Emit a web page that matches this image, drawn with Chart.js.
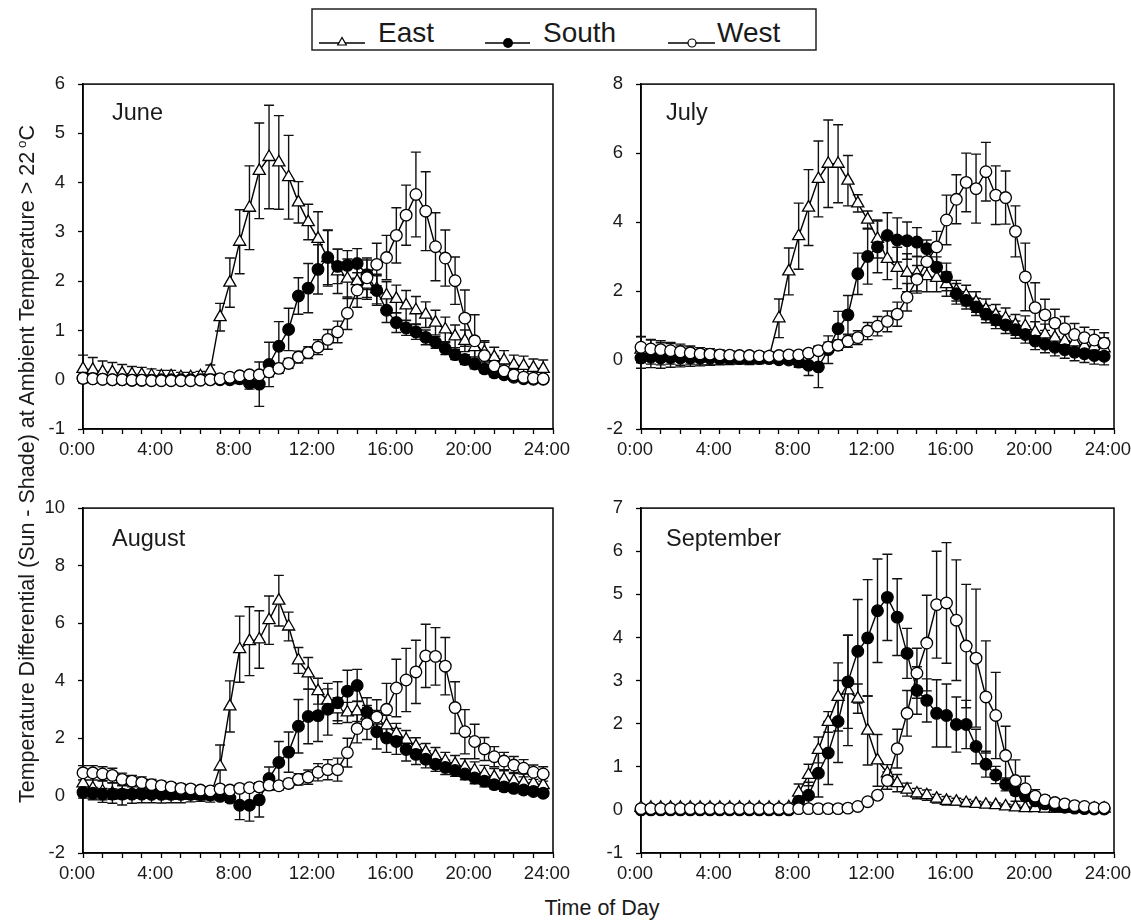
<!DOCTYPE html>
<html>
<head>
<meta charset="utf-8">
<title>Sun - Shade temperature differential</title>
<script src="https://cdn.jsdelivr.net/npm/chart.js@4.4.1/dist/chart.umd.min.js"></script>
<style>
  html, body { margin: 0; padding: 0; background: #fff; overflow: hidden; }
  body { width: 1131px; height: 920px; position: relative; font-family: "Liberation Sans", Arial, sans-serif; color: #1a1a1a; }
  canvas { position: absolute; }
  .month { position: absolute; font-size: 23.5px; line-height: 24px; white-space: nowrap; }
  .legtext { position: absolute; top: 19px; font-size: 28px; line-height: 28px; white-space: nowrap; }
  #xtitle { position: absolute; left: 302px; top: 897px; width: 600px; text-align: center; font-size: 21.5px; line-height: 22px; }
  #ytitle { position: absolute; left: -358px; top: 453px; width: 760px; height: 22px; text-align: center; font-size: 21.5px; line-height: 22px; transform: rotate(-90deg); white-space: nowrap; }
  #ytitle sup { font-size: 0.62em; vertical-align: 0.6em; margin-left: 4px; }
  #legsvg { position: absolute; left: 0; top: 0; }
</style>
</head>
<body>

<svg id="legsvg" width="1131" height="60">
  <rect x="312" y="9" width="504" height="41" fill="none" stroke="#222" stroke-width="1.5"/>
  <line x1="319" y1="43" x2="365" y2="43" stroke="#000" stroke-width="1.3"/>
  <polygon points="342,37.5 337.7,45 346.3,45" fill="#fff" stroke="#000" stroke-width="1.2"/>
  <line x1="485" y1="43" x2="530" y2="43" stroke="#000" stroke-width="1.3"/>
  <circle cx="508" cy="43" r="5" fill="#000"/>
  <line x1="668" y1="43" x2="715" y2="43" stroke="#000" stroke-width="1.3"/>
  <circle cx="692" cy="43" r="4" fill="#fff" stroke="#000" stroke-width="1.2"/>
</svg>
<span class="legtext" style="left:378px">East</span>
<span class="legtext" style="left:543px">South</span>
<span class="legtext" style="left:717px">West</span>

<canvas id="june" width="560" height="409" style="left:23px; top:60px"></canvas>
<canvas id="july" width="563" height="409" style="left:581px; top:60px"></canvas>
<canvas id="august" width="560" height="409" style="left:23px; top:484px"></canvas>
<canvas id="september" width="563" height="409" style="left:581px; top:484px"></canvas>

<div class="month" style="left:112px; top:100px">June</div>
<div class="month" style="left:666px; top:100px">July</div>
<div class="month" style="left:112px; top:526px">August</div>
<div class="month" style="left:666px; top:526px">September</div>

<div id="ytitle">Temperature Differential (Sun - Shade) at Ambient Temperature &gt; 22<sup>o</sup>C</div>
<div id="xtitle">Time of Day</div>

<script>
// half-hour readings, 0:00 .. 23:30
const hours = [0, 0.5, 1, 1.5, 2, 2.5, 3, 3.5, 4, 4.5, 5, 5.5, 6, 6.5, 7, 7.5,
  8, 8.5, 9, 9.5, 10, 10.5, 11, 11.5, 12, 12.5, 13, 13.5, 14, 14.5, 15, 15.5,
  16, 16.5, 17, 17.5, 18, 18.5, 19, 19.5, 20, 20.5, 21, 21.5, 22, 22.5, 23, 23.5];
const xTicks = [0, 1, 2, 3, 4, 5, 6, 7, 8, 9, 10, 11, 12, 13, 14, 15, 16, 17, 18, 19, 20, 21, 22, 23, 24];

// June
const juneEast = [0.22, 0.20, 0.16, 0.15, 0.13, 0.11, 0.10, 0.08,
  0.07, 0.07, 0.05, 0.05, 0.07, 0.18, 1.27, 1.97,
  2.80, 3.49, 4.24, 4.52, 4.41, 4.11, 3.60, 3.20,
  2.86, 2.47, 2.20, 2.05, 2.00, 1.93, 1.84, 1.71,
  1.64, 1.51, 1.41, 1.32, 1.16, 1.02, 0.88, 0.79,
  0.66, 0.56, 0.46, 0.39, 0.30, 0.28, 0.24, 0.22];
const juneEastErr = [0.28, 0.25, 0.22, 0.20, 0.18, 0.16, 0.15, 0.14,
  0.12, 0.12, 0.10, 0.10, 0.10, 0.12, 0.28, 0.50,
  0.65, 0.85, 0.97, 1.05, 0.95, 0.85, 0.42, 0.36,
  0.55, 0.57, 0.45, 0.40, 0.35, 0.30, 0.30, 0.28,
  0.28, 0.30, 0.28, 0.26, 0.25, 0.25, 0.23, 0.22,
  0.20, 0.20, 0.20, 0.20, 0.20, 0.20, 0.18, 0.18];
const juneSouth = [0.03, 0.02, 0.01, 0.00, 0.00, -0.01, -0.01, -0.01,
  0.00, 0.00, 0.00, 0.00, 0.00, 0.00, 0.00, 0.00,
  0.02, -0.07, -0.09, 0.31, 0.68, 1.02, 1.70, 1.86,
  2.24, 2.48, 2.30, 2.32, 2.36, 2.13, 1.81, 1.41,
  1.16, 1.05, 0.97, 0.86, 0.76, 0.63, 0.51, 0.41,
  0.32, 0.22, 0.14, 0.10, 0.05, 0.02, 0.01, 0.01];
const juneSouthErr = [0.05, 0.05, 0.05, 0.05, 0.04, 0.04, 0.04, 0.04,
  0.04, 0.04, 0.04, 0.04, 0.04, 0.04, 0.05, 0.05,
  0.10, 0.12, 0.45, 0.45, 0.50, 0.43, 0.37, 0.50,
  0.50, 0.55, 0.35, 0.30, 0.30, 0.30, 0.30, 0.25,
  0.20, 0.15, 0.15, 0.15, 0.12, 0.12, 0.10, 0.10,
  0.10, 0.08, 0.08, 0.06, 0.05, 0.05, 0.05, 0.05];
const juneWest = [0.03, 0.02, 0.01, 0.00, 0.00, -0.01, -0.01, -0.02,
  -0.02, -0.02, -0.02, -0.02, -0.01, 0.00, 0.02, 0.05,
  0.08, 0.10, 0.10, 0.16, 0.23, 0.33, 0.46, 0.55,
  0.66, 0.82, 0.97, 1.35, 1.82, 2.07, 2.34, 2.48,
  2.93, 3.34, 3.76, 3.42, 2.70, 2.47, 2.01, 1.25,
  0.79, 0.49, 0.28, 0.18, 0.10, 0.05, 0.03, 0.02];
const juneWestErr = [0.05, 0.05, 0.05, 0.05, 0.05, 0.05, 0.05, 0.05,
  0.05, 0.05, 0.05, 0.05, 0.05, 0.05, 0.05, 0.05,
  0.05, 0.05, 0.05, 0.10, 0.10, 0.10, 0.12, 0.12,
  0.15, 0.20, 0.22, 0.33, 0.35, 0.40, 0.43, 0.45,
  0.56, 0.61, 0.86, 0.80, 0.69, 0.57, 0.48, 0.57,
  0.53, 0.30, 0.20, 0.15, 0.10, 0.08, 0.06, 0.05];

// July
const julyEast = [0.30, 0.23, 0.18, 0.18, 0.13, 0.13, 0.08, 0.06,
  0.06, 0.04, 0.04, 0.02, 0.04, 0.08, 1.21, 2.57,
  3.59, 4.42, 5.25, 5.69, 5.69, 5.20, 4.54, 4.07,
  3.51, 2.93, 2.67, 2.53, 2.50, 2.43, 2.38, 2.20,
  2.01, 1.87, 1.68, 1.47, 1.31, 1.21, 1.02, 0.98,
  0.81, 0.74, 0.65, 0.55, 0.51, 0.41, 0.39, 0.34];
const julyEastErr = [0.38, 0.35, 0.32, 0.30, 0.28, 0.25, 0.22, 0.20,
  0.18, 0.17, 0.15, 0.15, 0.15, 0.15, 0.56, 0.68,
  0.96, 1.10, 1.10, 1.27, 1.13, 0.73, 0.25, 0.25,
  0.55, 0.60, 0.60, 0.55, 0.50, 0.45, 0.40, 0.35,
  0.30, 0.30, 0.30, 0.30, 0.30, 0.30, 0.30, 0.30,
  0.30, 0.30, 0.30, 0.30, 0.30, 0.30, 0.30, 0.30];
const julySouth = [0.06, 0.08, 0.06, 0.07, 0.06, 0.06, 0.05, 0.05,
  0.04, 0.04, 0.04, 0.04, 0.04, 0.04, 0.01, 0.00,
  -0.06, -0.15, -0.20, 0.30, 0.91, 1.31, 2.50, 3.00,
  3.28, 3.61, 3.48, 3.46, 3.42, 3.23, 2.69, 2.41,
  1.92, 1.73, 1.54, 1.33, 1.16, 1.02, 0.88, 0.74,
  0.55, 0.46, 0.37, 0.30, 0.23, 0.18, 0.13, 0.11];
const julySouthErr = [0.30, 0.30, 0.30, 0.28, 0.26, 0.24, 0.22, 0.20,
  0.18, 0.16, 0.15, 0.14, 0.13, 0.12, 0.10, 0.10,
  0.15, 0.30, 0.60, 0.40, 0.50, 0.56, 0.60, 0.80,
  0.75, 0.66, 0.64, 0.54, 0.42, 0.25, 0.30, 0.40,
  0.30, 0.25, 0.25, 0.25, 0.25, 0.25, 0.25, 0.25,
  0.25, 0.25, 0.25, 0.25, 0.25, 0.25, 0.25, 0.25];
const julyWest = [0.37, 0.32, 0.30, 0.27, 0.24, 0.21, 0.18, 0.17,
  0.15, 0.14, 0.13, 0.13, 0.12, 0.11, 0.13, 0.15,
  0.15, 0.20, 0.27, 0.37, 0.43, 0.55, 0.65, 0.84,
  0.98, 1.12, 1.33, 1.82, 2.34, 2.85, 3.28, 4.06,
  4.66, 5.15, 4.97, 5.46, 4.78, 4.71, 3.73, 2.41,
  1.52, 1.31, 1.07, 0.91, 0.74, 0.65, 0.58, 0.49];
const julyWestErr = [0.30, 0.28, 0.26, 0.24, 0.22, 0.20, 0.18, 0.16,
  0.14, 0.12, 0.10, 0.10, 0.10, 0.10, 0.10, 0.10,
  0.10, 0.10, 0.12, 0.15, 0.15, 0.18, 0.20, 0.25,
  0.28, 0.30, 0.35, 0.40, 0.40, 0.45, 0.45, 0.72,
  0.71, 0.85, 1.00, 0.85, 0.85, 0.77, 0.74, 0.98,
  0.72, 0.45, 0.40, 0.35, 0.32, 0.30, 0.30, 0.30];

// August
const augEast = [0.42, 0.25, 0.14, 0.08, 0.02, 0.05, 0.05, 0.05,
  0.02, 0.00, 0.00, 0.00, 0.00, -0.03, 1.01, 3.10,
  5.09, 5.37, 5.43, 6.10, 6.78, 5.88, 4.70, 4.25,
  3.63, 3.31, 3.00, 2.89, 2.93, 2.78, 2.61, 2.44,
  2.16, 1.94, 1.71, 1.51, 1.37, 1.20, 1.09, 0.98,
  0.87, 0.75, 0.64, 0.56, 0.50, 0.45, 0.42, 0.36];
const augEastErr = [0.40, 0.40, 0.38, 0.35, 0.35, 0.32, 0.30, 0.30,
  0.28, 0.25, 0.25, 0.22, 0.20, 0.20, 0.75, 0.89,
  1.15, 1.20, 1.00, 0.84, 0.88, 0.50, 0.45, 0.55,
  0.45, 0.40, 0.40, 0.35, 0.35, 0.35, 0.35, 0.35,
  0.35, 0.32, 0.30, 0.30, 0.30, 0.30, 0.30, 0.30,
  0.30, 0.30, 0.30, 0.30, 0.30, 0.30, 0.30, 0.30];
const augSouth = [0.11, 0.08, 0.05, 0.05, 0.05, 0.05, 0.05, 0.04,
  0.04, 0.04, 0.04, 0.04, 0.03, 0.02, -0.03, -0.09,
  -0.34, -0.34, -0.15, 0.59, 1.15, 1.51, 2.41, 2.75,
  2.78, 3.00, 3.23, 3.63, 3.83, 2.90, 2.22, 2.00,
  1.88, 1.60, 1.43, 1.26, 1.09, 0.98, 0.87, 0.75,
  0.61, 0.50, 0.38, 0.30, 0.25, 0.19, 0.14, 0.08];
const augSouthErr = [0.20, 0.20, 0.20, 0.18, 0.16, 0.15, 0.14, 0.13,
  0.12, 0.12, 0.10, 0.10, 0.10, 0.10, 0.10, 0.15,
  0.50, 0.55, 0.60, 0.40, 0.73, 0.70, 0.93, 0.95,
  0.90, 0.90, 0.73, 0.73, 0.56, 0.50, 0.60, 0.50,
  0.45, 0.40, 0.35, 0.30, 0.25, 0.25, 0.20, 0.20,
  0.20, 0.20, 0.15, 0.15, 0.15, 0.15, 0.12, 0.12];
const augWest = [0.79, 0.79, 0.75, 0.70, 0.56, 0.50, 0.45, 0.38,
  0.34, 0.30, 0.25, 0.23, 0.19, 0.16, 0.23, 0.19,
  0.25, 0.27, 0.30, 0.36, 0.34, 0.42, 0.56, 0.64,
  0.81, 0.90, 0.90, 1.49, 2.33, 2.50, 2.73, 3.00,
  3.74, 4.02, 4.30, 4.86, 4.84, 4.50, 3.06, 2.22,
  1.88, 1.62, 1.35, 1.20, 1.06, 0.95, 0.81, 0.75];
const augWestErr = [0.25, 0.25, 0.25, 0.25, 0.22, 0.20, 0.20, 0.18,
  0.16, 0.15, 0.14, 0.13, 0.12, 0.12, 0.12, 0.12,
  0.12, 0.12, 0.15, 0.15, 0.15, 0.15, 0.20, 0.25,
  0.30, 0.35, 0.40, 0.50, 0.50, 0.55, 0.60, 0.90,
  1.00, 1.10, 1.10, 1.10, 1.00, 1.00, 0.90, 0.77,
  0.60, 0.40, 0.35, 0.30, 0.30, 0.30, 0.25, 0.25];

// September
const sepEast = [0.05, 0.05, 0.05, 0.05, 0.05, 0.05, 0.05, 0.05,
  0.05, 0.05, 0.05, 0.05, 0.05, 0.05, 0.05, 0.06,
  0.40, 0.81, 1.39, 2.04, 2.62, 2.77, 2.58, 1.84,
  1.15, 0.85, 0.62, 0.47, 0.38, 0.34, 0.26, 0.21,
  0.19, 0.16, 0.14, 0.12, 0.11, 0.08, 0.06, 0.04,
  0.04, 0.03, 0.03, 0.03, 0.03, 0.03, 0.03, 0.03];
const sepEastErr = [0.03, 0.03, 0.03, 0.03, 0.03, 0.03, 0.03, 0.03,
  0.03, 0.03, 0.03, 0.03, 0.03, 0.03, 0.03, 0.05,
  0.20, 0.25, 0.30, 0.24, 0.79, 1.28, 0.34, 0.80,
  0.60, 0.20, 0.20, 0.15, 0.12, 0.12, 0.10, 0.10,
  0.08, 0.08, 0.06, 0.06, 0.05, 0.05, 0.05, 0.03,
  0.03, 0.03, 0.03, 0.03, 0.03, 0.03, 0.03, 0.03];
const sepSouth = [0.00, 0.00, 0.00, 0.00, 0.00, 0.00, 0.00, 0.00,
  0.00, 0.00, 0.00, 0.00, 0.00, 0.00, 0.00, 0.00,
  0.20, 0.34, 0.85, 1.32, 2.05, 2.97, 3.68, 3.99,
  4.62, 4.93, 4.47, 3.63, 2.77, 2.54, 2.24, 2.19,
  1.98, 1.98, 1.47, 1.06, 0.81, 0.59, 0.44, 0.32,
  0.21, 0.14, 0.08, 0.06, 0.04, 0.03, 0.02, 0.02];
const sepSouthErr = [0.02, 0.02, 0.02, 0.02, 0.02, 0.02, 0.02, 0.02,
  0.02, 0.02, 0.02, 0.02, 0.02, 0.02, 0.02, 0.02,
  0.15, 0.30, 0.55, 0.73, 0.95, 1.08, 1.20, 1.35,
  1.20, 1.00, 0.89, 0.58, 0.55, 0.50, 0.78, 0.73,
  0.64, 0.56, 0.40, 0.30, 0.20, 0.15, 0.10, 0.08,
  0.05, 0.04, 0.03, 0.02, 0.02, 0.02, 0.02, 0.02];
const sepWest = [0.03, 0.03, 0.03, 0.03, 0.03, 0.03, 0.03, 0.03,
  0.03, 0.03, 0.03, 0.03, 0.03, 0.03, 0.03, 0.03,
  0.03, 0.03, 0.03, 0.03, 0.03, 0.04, 0.08, 0.19,
  0.34, 0.68, 1.42, 2.24, 3.17, 3.87, 4.76, 4.80,
  4.40, 3.80, 3.52, 2.62, 2.19, 1.26, 0.68, 0.49,
  0.32, 0.23, 0.17, 0.14, 0.10, 0.08, 0.05, 0.05];
const sepWestErr = [0.02, 0.02, 0.02, 0.02, 0.02, 0.02, 0.02, 0.02,
  0.02, 0.02, 0.02, 0.02, 0.02, 0.02, 0.02, 0.02,
  0.02, 0.02, 0.02, 0.02, 0.02, 0.02, 0.03, 0.05,
  0.08, 0.20, 0.45, 0.53, 0.58, 1.11, 1.24, 1.40,
  1.40, 1.43, 1.60, 1.30, 1.00, 0.68, 0.48, 0.29,
  0.15, 0.10, 0.08, 0.06, 0.05, 0.04, 0.03, 0.03];

const FONT = '"Liberation Sans", Arial, Helvetica, sans-serif';
Chart.defaults.font.family = FONT;
Chart.defaults.color = '#1a1a1a';

// box round the plot area
const frame = {
  id: 'frame',
  beforeDatasetsDraw(chart) {
    const a = chart.chartArea, ctx = chart.ctx;
    ctx.save();
    ctx.strokeStyle = '#000';
    ctx.lineWidth = 1.5;
    ctx.strokeRect(a.left, a.top, a.right - a.left, a.bottom - a.top);
    ctx.restore();
  }
};

// symmetric error bars with caps, under the markers
const errorBars = {
  id: 'errorBars',
  beforeDatasetsDraw(chart) {
    const ctx = chart.ctx, yScale = chart.scales.y;
    ctx.save();
    ctx.strokeStyle = '#111';
    ctx.lineWidth = 1.4;
    chart.data.datasets.forEach((ds, i) => {
      const meta = chart.getDatasetMeta(i);
      meta.data.forEach((pt, j) => {
        const v = ds.data[j].y, e = ds.errors[j];
        const top = yScale.getPixelForValue(v + e);
        const bot = yScale.getPixelForValue(v - e);
        ctx.beginPath();
        ctx.moveTo(pt.x, top); ctx.lineTo(pt.x, bot);
        ctx.moveTo(pt.x - 5, top); ctx.lineTo(pt.x + 5, top);
        ctx.moveTo(pt.x - 5, bot); ctx.lineTo(pt.x + 5, bot);
        ctx.stroke();
      });
    });
    ctx.restore();
  }
};

function series(label, vals, errs, style, fill, radius, order) {
  return {
    label,
    data: hours.map((h, i) => ({ x: h, y: vals[i] })),
    errors: errs,
    borderColor: '#000',
    borderWidth: 1.4,
    pointStyle: style,
    pointRadius: radius,
    pointBackgroundColor: fill,
    pointBorderColor: '#000',
    pointBorderWidth: 1.3,
    tension: 0,
    clip: false,
    order
  };
}

function makePanel(id, yMin, yMax, yStep, east, eastErr, south, southErr, west, westErr) {
  new Chart(document.getElementById(id), {
    type: 'line',
    data: {
      datasets: [
        series('East', east, eastErr, 'triangle', '#fff', 7, 3),
        series('South', south, southErr, 'circle', '#000', 5.8, 2),
        series('West', west, westErr, 'circle', '#fff', 5.8, 1)
      ]
    },
    options: {
      responsive: false,
      animation: false,
      devicePixelRatio: 1,
      layout: { padding: { top: 14, right: 30, left: 0, bottom: 0 } },
      plugins: { legend: { display: false }, tooltip: { enabled: false } },
      scales: {
        x: {
          type: 'linear',
          min: 0,
          max: 24,
          afterFit: s => { s.height = 40; },
          afterBuildTicks: s => { s.ticks = xTicks.map(v => ({ value: v })); },
          ticks: {
            autoSkip: false,
            maxRotation: 0,
            padding: 5,
            labelOffset: -6,
            color: '#1a1a1a',
            font: { size: 18.5 },
            callback: v => (v % 4 === 0 ? v + ':00' : '')
          },
          grid: { drawOnChartArea: false, drawTicks: true, tickLength: 5, tickColor: '#000', tickWidth: 1.3 },
          border: { display: true, color: '#000', width: 1.5 }
        },
        y: {
          min: yMin,
          max: yMax,
          afterFit: s => { s.width = 60; },
          ticks: { stepSize: yStep, padding: 13, color: '#1a1a1a', font: { size: 18.5 } },
          grid: { drawOnChartArea: false, drawTicks: true, tickLength: 5, tickColor: '#000', tickWidth: 1.3 },
          border: { display: true, color: '#000', width: 1.5 }
        }
      }
    },
    plugins: [frame, errorBars]
  });
}

makePanel('june', -1, 6, 1, juneEast, juneEastErr, juneSouth, juneSouthErr, juneWest, juneWestErr);
makePanel('july', -2, 8, 2, julyEast, julyEastErr, julySouth, julySouthErr, julyWest, julyWestErr);
makePanel('august', -2, 10, 2, augEast, augEastErr, augSouth, augSouthErr, augWest, augWestErr);
makePanel('september', -1, 7, 1, sepEast, sepEastErr, sepSouth, sepSouthErr, sepWest, sepWestErr);
</script>
</body>
</html>
